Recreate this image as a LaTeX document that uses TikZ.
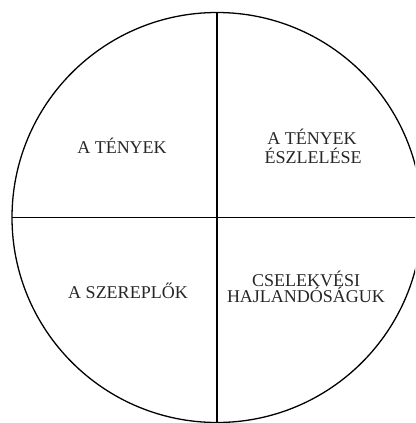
\documentclass[tikz,border=0pt]{standalone}
\usepackage{fontspec}
\setmainfont{Liberation Serif}
\begin{document}
\begin{tikzpicture}[x=1pt,y=-1pt,
  lbl/.style={text=black!85, font=\fontsize{18}{19}\selectfont, align=center, inner sep=0pt, anchor=base},
  ring/.style={draw, circle, line width=1.3pt, minimum size=410pt, inner sep=0pt, outer sep=0pt},
  divider/.style={line width=1.8pt}]
\useasboundingbox (0,0) rectangle (415,423);
\clip (0,0) rectangle (415,423);
\node[ring] (c) at (217,217.5) {};
\draw[divider] (c.north) -- (c.south);
\draw[divider] (c.west) -- (c.east);
\node[lbl] (t1) at (122,153) {A TÉNYEK};
\node[lbl] (t2a) at (312,144) {A TÉNYEK};
\node[lbl] (t2b) at (313,163.5) {ÉSZLELÉSE};
\node[lbl] (t3) at (128,298) {A SZEREPLŐK};
\node[lbl] (t4a) at (306,286) {CSELEKVÉSI};
\node[lbl] (t4b) at (306,302.5) {HAJLANDÓSÁGUK};
\end{tikzpicture}
\end{document}
